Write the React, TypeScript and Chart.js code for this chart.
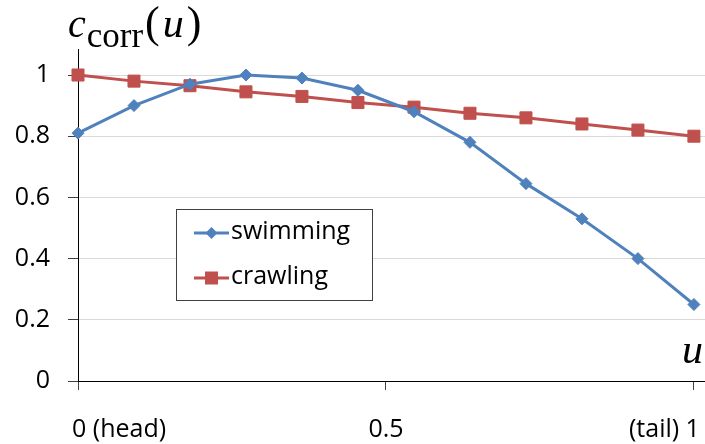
import React, { useEffect, useRef } from "react";
import { Chart, registerables } from "chart.js";

Chart.register(...registerables);

const uValues = [0, 0.0909, 0.1818, 0.2727, 0.3636, 0.4545, 0.5455, 0.6364, 0.7273, 0.8182, 0.9091, 1];
const swimming = [0.81, 0.9, 0.97, 1.0, 0.99, 0.95, 0.88, 0.78, 0.645, 0.53, 0.4, 0.25];
const crawling = [1.0, 0.98, 0.965, 0.945, 0.93, 0.91, 0.895, 0.875, 0.86, 0.84, 0.82, 0.8];
const seriesNames = ["swimming", "crawling"];
const yTicks = [0, 0.2, 0.4, 0.6, 0.8, 1];
const xTicks = [0, 0.5, 1];
const xTickLabels = ["0 (head)", "0.5", "(tail) 1"];

const BLUE = "#4F81BD";
const RED = "#C0504D";
const TEXT_FONT = "25px 'Open Sans'";
const SERIF = "'Liberation Serif', serif";

const overlayPlugin = {
  id: "overlay",
  afterDraw(chart: any) {
    const ctx = chart.ctx;
    const xs = chart.scales.x;
    ctx.save();
    // x tick labels
    ctx.fillStyle = "#000";
    ctx.font = TEXT_FONT;
    ctx.textBaseline = "alphabetic";
    const aligns: CanvasTextAlign[] = ["left", "center", "right"];
    const offs = [-6, 0, 6];
    xTicks.forEach((v, i) => {
      ctx.textAlign = aligns[i];
      ctx.fillText(xTickLabels[i], xs.getPixelForValue(v) + offs[i], 437);
    });

    // y-axis title c_corr(u)
    ctx.textAlign = "left";
    let x = 68;
    ctx.font = `italic 40px ${SERIF}`;
    ctx.fillText("c", x, 37);
    x += ctx.measureText("c").width + 1;
    ctx.font = `35px ${SERIF}`;
    ctx.fillText("corr", x, 47);
    x += ctx.measureText("corr").width + 2;
    ctx.font = `44px ${SERIF}`;
    ctx.fillText("(", x, 37);
    x += ctx.measureText("(").width + 3;
    ctx.font = `italic 42px ${SERIF}`;
    ctx.fillText("u", x, 37);
    x += ctx.measureText("u").width + 3;
    ctx.font = `44px ${SERIF}`;
    ctx.fillText(")", x, 37);

    // x-axis title u
    ctx.font = `italic 42px ${SERIF}`;
    ctx.fillText("u", 682, 363);

    // legend box
    const bx = 176.5, by = 209.5, bw = 196, bh = 91;
    ctx.fillStyle = "#fff";
    ctx.fillRect(bx, by, bw, bh);
    ctx.strokeStyle = "#404040";
    ctx.lineWidth = 1;
    ctx.strokeRect(bx, by, bw, bh);
    const rows = [233, 278];
    chart.data.datasets.forEach((ds: any, i: number) => {
      const y = rows[i];
      ctx.strokeStyle = ds.borderColor;
      ctx.lineWidth = ds.borderWidth;
      ctx.beginPath();
      ctx.moveTo(194, y);
      ctx.lineTo(229, y);
      ctx.stroke();
      ctx.fillStyle = ds.pointBackgroundColor;
      if (ds.pointStyle === "rect") {
        ctx.fillRect(205, y - 6.5, 13, 13);
      } else {
        ctx.beginPath();
        ctx.moveTo(211.5, y - 6);
        ctx.lineTo(217.5, y);
        ctx.lineTo(211.5, y + 6);
        ctx.lineTo(205.5, y);
        ctx.closePath();
        ctx.fill();
      }
      ctx.fillStyle = "#000";
      ctx.font = TEXT_FONT;
      ctx.textAlign = "left";
      ctx.textBaseline = "middle";
      ctx.fillText(ds.label, 231, y - 1);
    });
    ctx.restore();
  },
};

export default function App() {
  const ref = useRef<HTMLCanvasElement>(null);
  useEffect(() => {
    if (!ref.current) return;
    const chart = new Chart(ref.current, {
      type: "line",
      data: {
        datasets: [
          {
            label: seriesNames[0],
            data: uValues.map((u, i) => ({ x: u, y: swimming[i] })),
            borderColor: BLUE,
            backgroundColor: BLUE,
            pointBackgroundColor: BLUE,
            pointBorderColor: BLUE,
            borderWidth: 3,
            pointStyle: "rectRot",
            pointRadius: 6,
            pointBorderWidth: 1,
            tension: 0,
            clip: false,
          },
          {
            label: seriesNames[1],
            data: uValues.map((u, i) => ({ x: u, y: crawling[i] })),
            borderColor: RED,
            backgroundColor: RED,
            pointBackgroundColor: RED,
            pointBorderColor: RED,
            borderWidth: 3,
            pointStyle: "rect",
            pointRadius: 8.5,
            pointBorderWidth: 1,
            tension: 0,
            clip: false,
          },
        ],
      },
      options: {
        animation: false,
        responsive: true,
        maintainAspectRatio: false,
        layout: { autoPadding: false, padding: { top: 49, left: 0, right: 0, bottom: 0 } },
        plugins: { legend: { display: false }, tooltip: { enabled: false } },
        scales: {
          x: {
            type: "linear",
            min: 0,
            max: 1.018,
            afterBuildTicks: (s: any) => {
              s.ticks = xTicks.map((v) => ({ value: v }));
            },
            afterFit: (s: any) => {
              s.height = 63;
              s.paddingLeft = 0;
              s.paddingRight = 0;
            },
            ticks: { display: false },
            grid: { drawOnChartArea: false, drawTicks: true, tickLength: 9, tickColor: "#404040" },
            border: { color: "#000", width: 1 },
          },
          y: {
            type: "linear",
            min: 0,
            max: 1.085,
            afterBuildTicks: (s: any) => {
              s.ticks = yTicks.map((v) => ({ value: v }));
            },
            afterFit: (s: any) => {
              s.width = 78;
              s.paddingLeft = 0;
              s.paddingRight = 0;
            },
            ticks: {
              color: "#000",
              font: { family: "'Open Sans'", size: 25 },
              padding: 18,
              callback: (v: any) => String(v),
            },
            grid: {
              color: (c: any) => (c.tick && c.tick.value === 0 ? "#000" : "#d9d9d9"),
              tickColor: "#404040",
              tickLength: 10,
            },
            border: { color: "#000", width: 1 },
          },
        },
      },
      plugins: [overlayPlugin],
    });
    return () => chart.destroy();
  }, []);
  return (
    <div style={{ position: "absolute", left: 0, top: 0, width: 705, height: 444 }}>
      <canvas ref={ref} style={{ display: "block" }} />
    </div>
  );
}
